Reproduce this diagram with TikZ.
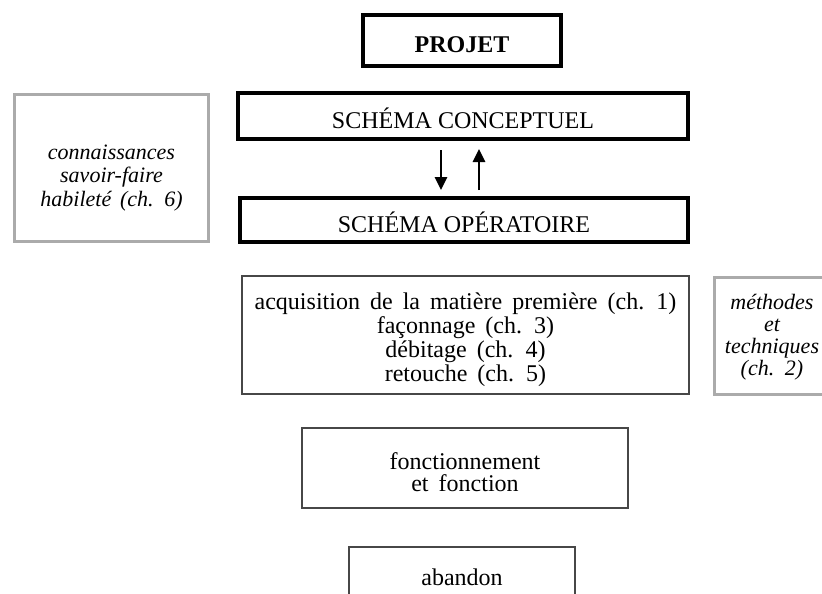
\documentclass[tikz,border=0pt]{standalone}
\usepackage{fontspec}
\setmainfont{Liberation Serif}
\usetikzlibrary{arrows.meta}
\newcommand{\widesp}[1]{\spaceskip=#1em plus 0.1em\relax}
\begin{document}
\begin{tikzpicture}[x=1pt,y=-1pt,
  thickbox/.style={draw=black, line width=4pt, inner sep=0pt, text height=24pt, text depth=0pt, font=\fontsize{24}{24}\selectfont},
  thinbox/.style={draw=black!72, line width=1.2pt, inner sep=0pt},
  graybox/.style={draw=black!33, line width=3pt, inner sep=0pt},
  bodytext/.style={inner sep=0pt, align=center, font=\fontsize{24}{24}\selectfont\widesp{0.42}},
  itatext/.style={inner sep=0pt, align=center, font=\fontsize{22}{23.5}\selectfont\itshape\widesp{0.4}},
  arr/.style={line width=2.6pt, -{Triangle[width=12pt,length=13pt]}}
]
\useasboundingbox (0,0) rectangle (822,594);
% top
\node[thickbox, minimum width=198pt, minimum height=51pt, text height=25pt, font=\fontsize{24}{24}\selectfont\bfseries] (projet) at (462,40.5) {PROJET};
\node[thickbox, minimum width=450pt, minimum height=46pt] (sc) at (463,116) {SCHÉMA CONCEPTUEL};
\node[thickbox, minimum width=448pt, minimum height=44pt] (so) at (464,220) {SCHÉMA OPÉRATOIRE};
% arrows
\coordinate (ax1) at (441,0);
\coordinate (ax2) at (479,0);
\draw[arr, shorten <=9pt, shorten >=6pt] (sc.south -| ax1) -- (so.north -| ax1);
\draw[arr, shorten <=6pt, shorten >=8pt] (so.north -| ax2) -- (sc.south -| ax2);
% left gray box
\node[graybox, minimum width=194pt, minimum height=147pt] (know) at (111.5,168) {};
\node[itatext] (knowtxt) at (111.5,178)
  {connaissances\\savoir-faire\\habileté (ch. 6)};
% middle box
\node[thinbox, minimum width=447pt, minimum height=118pt] (chaine) at (465.5,335) {};
\node[bodytext] (chainetxt) at (465.5,340)
  {acquisition de la matière première (ch. 1)\\façonnage (ch. 3)\\débitage (ch. 4)\\retouche (ch. 5)};
% right gray box (open on the right, cut by the page edge)
\coordinate (methtl) at (714,277);
\coordinate (methbl) at (714,394);
\draw[draw=black!33, line width=3pt] (methtl -| 830,0) -- (methtl) -- (methbl) -- (methbl -| 830,0);
\node[itatext, font=\fontsize{22}{22}\selectfont\itshape\widesp{0.4}] (meth) at (772,337)
  {méthodes\\et\\techniques\\(ch. 2)};
% fonctionnement
\node[thinbox, minimum width=326pt, minimum height=80pt] (fonct) at (465,468) {};
\node[bodytext, font=\fontsize{24}{22}\selectfont\widesp{0.42}] (fonctxt) at (465,472.5)
  {fonctionnement\\et fonction};
% abandon (cut by the page edge)
\coordinate (abtl) at (349,547);
\coordinate (abtr) at (575,547);
\draw[draw=black!72, line width=1.2pt] (abtl |- 0,600) -- (abtl) -- (abtr) -- (abtr |- 0,600);
\node[inner sep=0pt, anchor=base, font=\fontsize{24}{24}\selectfont] (aband) at (462,585) {abandon};
\end{tikzpicture}
\end{document}
